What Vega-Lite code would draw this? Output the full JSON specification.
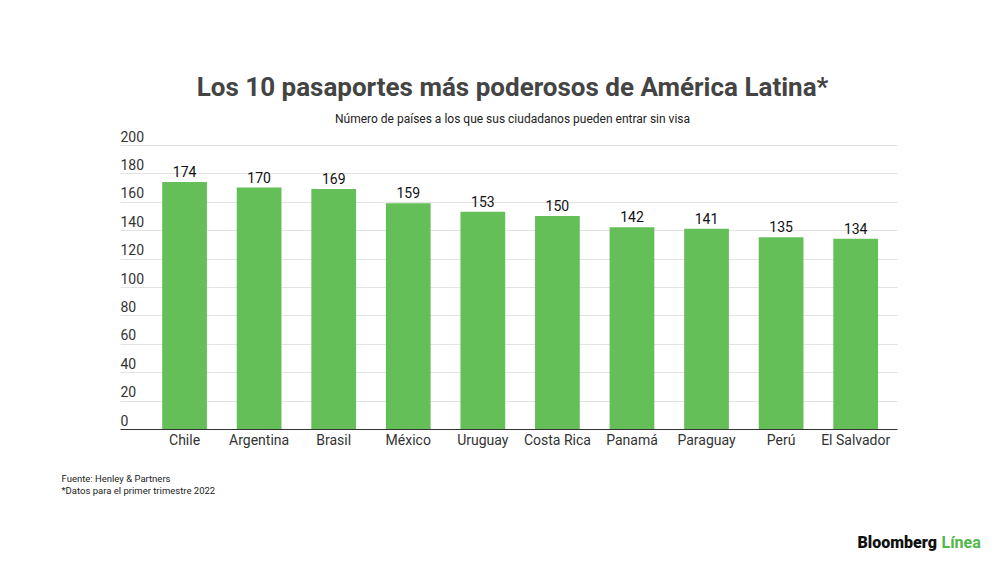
{
  "$schema": "https://vega.github.io/schema/vega-lite/v6.json",
  "background": "white",
  "autosize": {"type": "none"},
  "padding": {"left": 120, "top": 145, "right": 103, "bottom": 133},
  "width": 777,
  "height": 284,
  "title": {
    "text": "Los 10 pasaportes más poderosos de América Latina*",
    "subtitle": "Número de países a los que sus ciudadanos pueden entrar sin visa",
    "anchor": "middle",
    "dx": 4,
    "font": "Roboto",
    "fontSize": 26,
    "fontWeight": "bold",
    "color": "#444444",
    "subtitleFont": "Roboto",
    "subtitleFontSize": 12,
    "subtitleFontWeight": "normal",
    "subtitleColor": "#222222",
    "subtitlePadding": 13,
    "offset": 5
  },
  "data": {
    "values": [
      {"pais": "Chile", "paises": 174},
      {"pais": "Argentina", "paises": 170},
      {"pais": "Brasil", "paises": 169},
      {"pais": "México", "paises": 159},
      {"pais": "Uruguay", "paises": 153},
      {"pais": "Costa Rica", "paises": 150},
      {"pais": "Panamá", "paises": 142},
      {"pais": "Paraguay", "paises": 141},
      {"pais": "Perú", "paises": 135},
      {"pais": "El Salvador", "paises": 134}
    ]
  },
  "encoding": {
    "x": {
      "field": "pais",
      "type": "nominal",
      "sort": null,
      "scale": {"paddingInner": 0.4, "paddingOuter": 0.41, "align": 0.69},
      "axis": {
        "title": ["Fuente: Henley & Partners", "*Datos para el primer trimestre 2022"],
        "titleAnchor": "start",
        "titleAlign": "left",
        "titleBaseline": "top",
        "titleX": -59,
        "titleY": 44,
        "titleFont": "Roboto",
        "titleFontSize": 9.5,
        "titleFontWeight": "normal",
        "titleColor": "#222222",
        "titleLineHeight": 12,
        "labelAngle": 0,
        "labelFont": "Roboto",
        "labelFontSize": 14,
        "labelColor": "#333333",
        "labelPadding": 4,
        "ticks": false,
        "domainColor": "#333333",
        "domainWidth": 1.2
      }
    },
    "y": {
      "field": "paises",
      "type": "quantitative",
      "scale": {"domain": [0, 200], "nice": false},
      "axis": {
        "values": [0, 20, 40, 60, 80, 100, 120, 140, 160, 180, 200],
        "title": "Bloomberg",
        "titleX": 737,
        "titleY": 397,
        "titleAngle": 0,
        "titleAlign": "left",
        "titleBaseline": "middle",
        "titleFont": "Roboto",
        "titleFontSize": 16,
        "titleFontWeight": 900,
        "titleColor": "#111111",
        "labelAlign": "left",
        "labelBaseline": "alphabetic",
        "labelPadding": 0,
        "labelOffset": -4,
        "labelFlush": false,
        "labelFont": "Roboto",
        "labelFontSize": 14,
        "labelColor": "#333333",
        "ticks": false,
        "domain": false,
        "grid": true,
        "gridColor": "#e3e3e3",
        "gridWidth": 1
      }
    }
  },
  "layer": [
    {
      "mark": {"type": "bar", "color": "#65bf58"}
    },
    {
      "mark": {
        "type": "text",
        "baseline": "bottom",
        "dy": -2,
        "font": "Roboto",
        "fontSize": 14,
        "fontWeight": "normal",
        "color": "#111111"
      },
      "encoding": {
        "text": {"field": "paises", "type": "quantitative"},
        "y": {
          "field": "paises",
          "type": "quantitative",
          "axis": {
            "orient": "right",
            "labels": false,
            "ticks": false,
            "domain": false,
            "grid": false,
            "title": "Línea",
            "titleX": 44,
            "titleY": 397,
            "titleAngle": 0,
            "titleAlign": "left",
            "titleBaseline": "middle",
            "titleFont": "Roboto",
            "titleFontSize": 16,
            "titleFontWeight": "bold",
            "titleColor": "#4fb848"
          }
        }
      }
    }
  ],
  "resolve": {"axis": {"y": "independent"}},
  "config": {
    "view": {"stroke": null},
    "font": "Roboto"
  }
}
